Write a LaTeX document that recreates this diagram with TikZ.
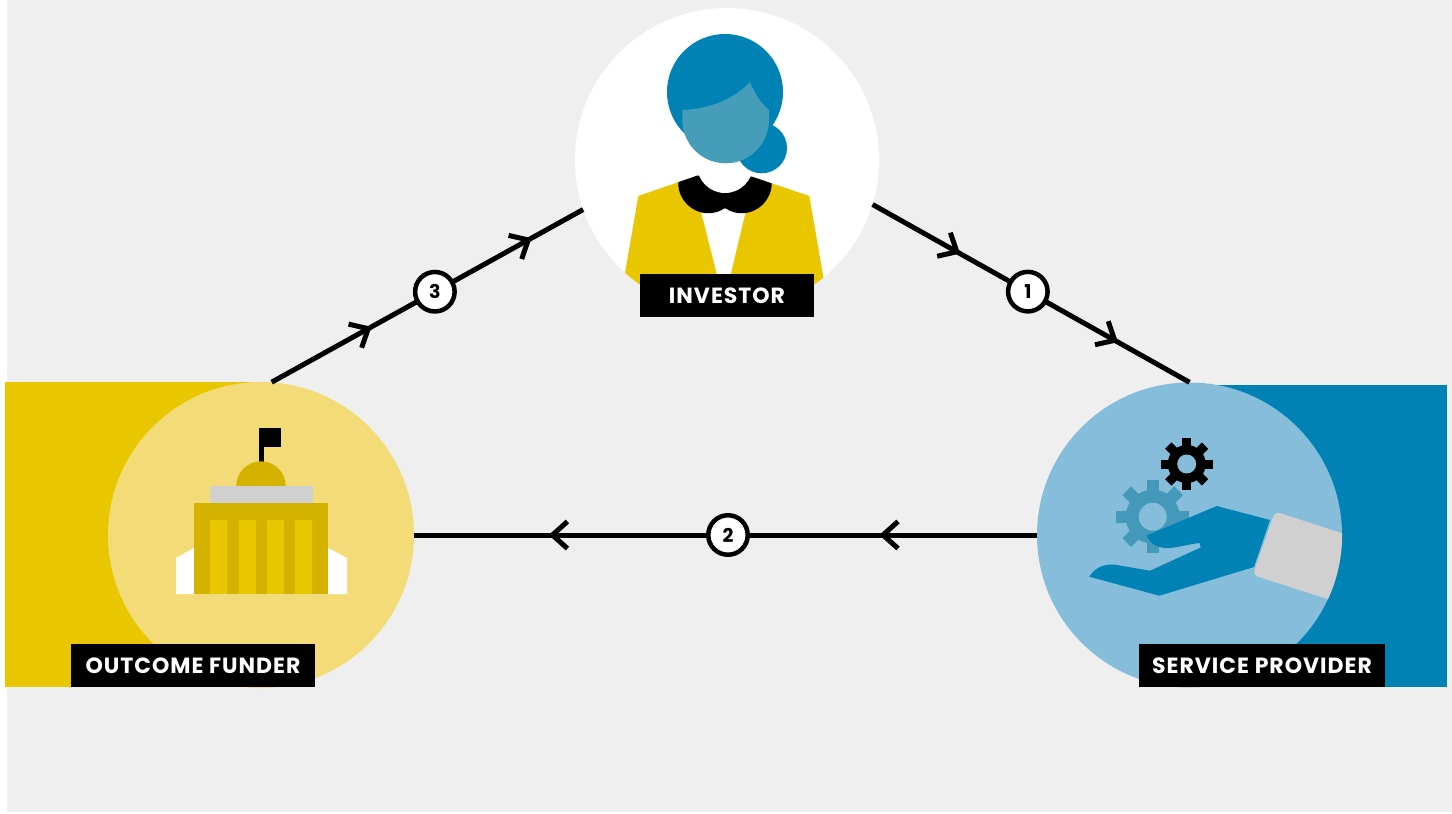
\documentclass[tikz,border=0pt]{standalone}
\usepackage{fontspec}
\setmainfont{Poppins}
\newfontfamily\lblfont[LetterSpace=4.5]{Poppins}
\usetikzlibrary{decorations.markings}
\definecolor{bggrey}{HTML}{EFEFEF}
\definecolor{myyellow}{HTML}{E8C700}
\definecolor{lyellow}{HTML}{F3DC78}
\definecolor{dyellow}{HTML}{D3B300}
\definecolor{dblue}{HTML}{0083B4}
\definecolor{lblue}{HTML}{86BDDA}
\definecolor{gearteal}{HTML}{4499BB}
\definecolor{faceblue}{HTML}{459DBA}
\definecolor{cuffgrey}{HTML}{D0D0D0}
\newcommand\mygear[7]{%
  \fill[#6] (#1,#2) circle (#3pt);
  \foreach \a in {0,45,...,315}{
    \fill[#6, rotate around={\a:(#1,#2)}] ({#1-#5/2},{#2-#4}) rectangle ({#1+#5/2},#2);
  }
  \fill[lblue] (#1,#2) circle (#7pt);
}
\begin{document}
\begin{tikzpicture}[x=1pt,y=-1pt,
  lbl/.style={fill=black,text=white,font=\lblfont\fontsize{22}{22}\selectfont\bfseries,minimum height=43pt,inner sep=0pt},
  num/.style={circle,draw=black,fill=white,line width=4.5pt,minimum size=39.5pt,inner sep=0pt,font=\fontsize{19}{19}\selectfont\bfseries},
  conn/.style={line width=5pt,draw=black},
  chevat/.style={postaction={decorate,decoration={markings,mark=at position #1 with {\draw[line width=5pt,miter limit=10] (-15pt,13.5pt) -- (0pt,0pt) -- (-15pt,-13.5pt);}}}},
  hub/.style={circle,inner sep=0pt,minimum size=#1},
]
\useasboundingbox (0,0) rectangle (1452,814);
\fill[white] (0,0) rectangle (1452,814);
\fill[bggrey] (7,0) rectangle (1452,812);
% bands
\fill[myyellow] (5,382) rectangle (262,687);
\fill[dblue] (1189,385) rectangle (1447,687);
% hub circles
\node[hub=304pt, fill=white] (inv) at (727,160) {};
\node[hub=306pt, fill=lyellow] (fund) at (261,535) {};
\node[hub=305pt, fill=lblue] (prov) at (1189.5,535) {};

% ---------- investor figure
\begin{scope}
  \clip (727,160) circle (152pt);
  \fill[myyellow] (638.3,196) -- (697,175.7) -- (752,176.7) -- (809.3,196) -- (830.8,320) -- (616.9,320) -- cycle;
  \fill[white] (699.4,205) -- (747.2,205) -- (729.3,280) -- (718.3,280) -- cycle;
\end{scope}
\begin{scope}
  \clip (638.3,196) -- (697,175.7) -- (752,176.7) -- (809.3,196) -- (809.3,260) -- (638.3,260) -- cycle;
  \fill[black] (708.3,183.2) circle (30pt);
  \fill[black] (741.7,183.2) circle (30pt);
\end{scope}
\fill[white] (725,165) circle (28pt);
\fill[dblue] (725,92) circle (58pt);
\fill[dblue] (761.7,148) circle (25.3pt);
\fill[faceblue] (682.3,110) .. controls (712,109) and (737,97) .. (750,81.7)
  .. controls (755,95) and (762,104) .. (769,110) -- (769,119.8)
  .. controls (769,143.8) and (749.7,163.3) .. (725.7,163.3)
  .. controls (701.7,163.3) and (682.3,143.8) .. (682.3,119.8) -- cycle;

% ---------- outcome funder building
\fill[black] (259,428) rectangle (264,462);
\fill[black] (259,428) rectangle (281,447);
\fill[dyellow] (261,486) circle (24.7pt);
\fill[cuffgrey] (210,486) rectangle (313,503);
\fill[white] (176,558) -- (194,548) -- (194,594) -- (176,594) -- cycle;
\fill[white] (328,548) -- (347,558) -- (347,594) -- (328,594) -- cycle;
\fill[dyellow] (194,503) rectangle (328,594);
\foreach \xa in {210,239,267,295}{
  \fill[myyellow] (\xa,520) rectangle (\xa+17,594);
}

% ---------- service provider
\mygear{1186.7}{464}{19}{26}{9}{black}{9.5}
\mygear{1152.7}{516.7}{27}{36.7}{12.3}{gearteal}{14}
\fill[dblue] (1089.3,576.7) .. controls (1094,569) and (1102,564) .. (1114,564.5)
  -- (1150,570.7) -- (1200.7,547.5) -- (1199.5,543)
  .. controls (1190,544) and (1180,547) .. (1170,548)
  .. controls (1158,549) and (1149,543) .. (1146.7,535.5)
  -- (1216.7,506) -- (1270,520) -- (1254,567) -- (1159.3,595.7) -- cycle;
\begin{scope}
  \clip (1189.5,535) circle (152.5pt);
  \fill[cuffgrey, rounded corners=5pt] (1275,511.5) -- (1360.6,539.2) -- (1343,604) -- (1252.7,575) -- cycle;
\end{scope}

% ---------- connectors
\draw[conn, chevat=0.31, chevat=0.824] (fund.86) -- node[num, pos=0.524] (n3) {3} (inv.199);
\draw[conn, chevat=0.266, chevat=0.764] (inv.343) -- node[num, pos=0.49] (n1) {1} (prov.90);
\draw[conn, chevat=0.247, chevat=0.778] (prov.180) -- node[num, pos=0.496] (n2) {2} (fund.0);

% ---------- labels
\node[lbl, minimum width=174pt] (linv) at (727,295.5) {INVESTOR};
\node[lbl, minimum width=244pt] (lfund) at (193,665.5) {OUTCOME FUNDER};
\node[lbl, minimum width=246pt] (lprov) at (1262,665.5) {SERVICE PROVIDER};
\end{tikzpicture}
\end{document}
